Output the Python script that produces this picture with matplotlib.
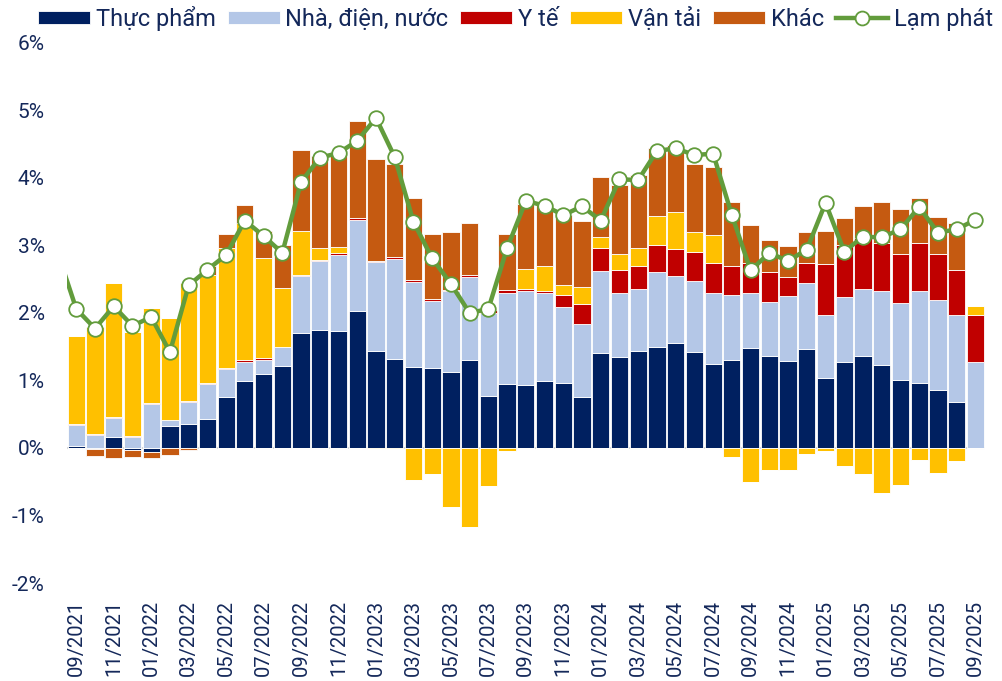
import matplotlib
matplotlib.use("Agg")
import matplotlib.pyplot as plt
from matplotlib import font_manager
import numpy as np

months = ["08/2021",
          "09/2021", "10/2021", "11/2021", "12/2021", "01/2022", "02/2022", "03/2022", "04/2022",
          "05/2022", "06/2022", "07/2022", "08/2022", "09/2022", "10/2022", "11/2022", "12/2022",
          "01/2023", "02/2023", "03/2023", "04/2023", "05/2023", "06/2023", "07/2023", "08/2023",
          "09/2023", "10/2023", "11/2023", "12/2023", "01/2024", "02/2024", "03/2024", "04/2024",
          "05/2024", "06/2024", "07/2024", "08/2024", "09/2024", "10/2024", "11/2024", "12/2024",
          "01/2025", "02/2025", "03/2025", "04/2025", "05/2025", "06/2025", "07/2025", "08/2025",
          "09/2025"]

# contributions (percentage points), months 09/2021 .. 09/2025
thuc_pham = [0.03, -0.02, 0.16, -0.03, -0.06, 0.33, 0.36, 0.43, 0.76, 0.99, 1.10, 1.21,
             1.71, 1.75, 1.74, 2.03, 1.43, 1.32, 1.20, 1.19, 1.12, 1.30, 0.77, 0.95,
             0.93, 0.99, 0.97, 0.76, 1.41, 1.35, 1.44, 1.49, 1.56, 1.42, 1.24, 1.31,
             1.48, 1.37, 1.29, 1.47, 1.03, 1.27, 1.36, 1.23, 1.00, 0.97, 0.86, 0.68, 0.00]
nha_dien_nuoc = [0.31, 0.19, 0.29, 0.17, 0.65, 0.08, 0.32, 0.52, 0.41, 0.29, 0.21, 0.28,
                 0.84, 1.02, 1.12, 1.35, 1.32, 1.48, 1.26, 0.99, 1.20, 1.23, 1.23, 1.35,
                 1.39, 1.30, 1.12, 1.07, 1.21, 0.94, 0.92, 1.12, 0.99, 1.05, 1.06, 0.95,
                 0.82, 0.79, 0.96, 0.98, 0.94, 0.96, 1.00, 1.09, 1.15, 1.36, 1.33, 1.29, 1.28]
y_te = [0.01, 0.01, 0.01, 0.01, 0.02, 0.01, 0.02, 0.02, 0.01, 0.02, 0.02, 0.01,
        0.02, 0.02, 0.03, 0.02, 0.02, 0.03, 0.03, 0.03, 0.02, 0.03, 0.04, 0.04,
        0.03, 0.03, 0.18, 0.30, 0.35, 0.34, 0.34, 0.40, 0.40, 0.44, 0.44, 0.44,
        0.44, 0.45, 0.28, 0.29, 0.75, 0.78, 0.75, 0.72, 0.73, 0.70, 0.69, 0.67, 0.69]
van_tai = [1.31, 1.59, 1.99, 1.54, 1.40, 1.50, 1.75, 1.59, 1.78, 2.03, 1.48, 0.87,
           0.64, 0.18, 0.09, 0.00, -0.01, -0.02, -0.47, -0.39, -0.87, -1.17, -0.56, -0.04,
           0.30, 0.37, 0.15, 0.25, 0.15, 0.25, 0.27, 0.42, 0.54, 0.29, 0.42, -0.14,
           -0.51, -0.32, -0.33, -0.09, -0.04, -0.27, -0.39, -0.66, -0.55, -0.18, -0.37, -0.19, 0.14]
khac = [0.00, -0.10, -0.15, -0.10, -0.09, -0.10, -0.03, 0.14, 0.21, 0.27, 0.41, 0.63,
        1.21, 1.35, 1.38, 1.45, 1.51, 1.38, 1.21, 0.96, 0.86, 0.78, 0.00, 0.83,
        0.97, 0.94, 1.03, 0.98, 0.89, 1.02, 1.08, 1.02, 1.00, 1.00, 1.01, 0.94,
        0.56, 0.47, 0.46, 0.46, 0.49, 0.40, 0.48, 0.61, 0.66, 0.68, 0.54, 0.69, 0.00]
# headline inflation, months 08/2021 .. 09/2025
lam_phat = [2.90,
            2.06, 1.77, 2.10, 1.81, 1.94, 1.42, 2.41, 2.64, 2.86, 3.37, 3.14, 2.89,
            3.94, 4.30, 4.37, 4.55, 4.89, 4.31, 3.35, 2.81, 2.43, 2.00, 2.06, 2.96,
            3.66, 3.59, 3.45, 3.58, 3.37, 3.98, 3.97, 4.40, 4.44, 4.34, 4.36, 3.45,
            2.63, 2.89, 2.77, 2.94, 3.63, 2.91, 3.13, 3.12, 3.24, 3.57, 3.19, 3.24, 3.38]

series_names = ["Thực phẩm", "Nhà, điện, nước", "Y tế", "Vận tải", "Khác"]
series_vals = [thuc_pham, nha_dien_nuoc, y_te, van_tai, khac]
colors = ["#002060", "#B4C7E7", "#C00000", "#FFC000", "#C55A11"]
line_color = "#629C3C"
text_color = "#14285A"

def pick(names):
    avail = {f.name for f in font_manager.fontManager.ttflist}
    return [n for n in names if n in avail] or ["DejaVu Sans"]

tick_font = pick(["Roboto", "DejaVu Sans"])

fig = plt.figure(figsize=(10.03, 6.81), dpi=100)
ax = fig.add_axes([0.0667, 0.1439, 0.9151, 0.7930])

n = len(thuc_pham)
x = np.arange(n)
pos_base = np.zeros(n)
neg_base = np.zeros(n)
handles = []
for name, vals, col in zip(series_names, series_vals, colors):
    v = np.array(vals)
    pos = np.where(v > 0, v, 0)
    neg = np.where(v < 0, v, 0)
    h = ax.bar(x, pos, 0.92, bottom=pos_base, color=col, edgecolor="white",
               linewidth=0.6, label=name, zorder=2)
    ax.bar(x, neg, 0.92, bottom=neg_base, color=col, edgecolor="white",
           linewidth=0.6, zorder=2)
    pos_base += pos
    neg_base += neg
    handles.append(h)

ax.axhline(0, color="#D9D9D9", lw=1.5, zorder=1)

xl = np.arange(-1, n)
ln, = ax.plot(xl, lam_phat, color=line_color, lw=3.2, marker="o", ms=10.5,
              markerfacecolor="white", markeredgecolor=line_color, markeredgewidth=1.3,
              zorder=3, label="Lạm phát")

ax.set_xlim(-0.5, n - 0.5)
ax.set_ylim(-2, 6)
ax.set_yticks(range(-2, 7))
ax.set_yticklabels([f"{t}%" for t in range(-2, 7)], fontsize=15,
                   color=text_color, family=tick_font)
ax.set_xticks(x[::2])
ax.set_xticklabels(months[1::2], rotation=90, fontsize=14.5, color=text_color,
                   family=tick_font)
ax.tick_params(axis="y", length=0, pad=16)
ax.tick_params(axis="x", length=0, pad=12)
for s in ax.spines.values():
    s.set_visible(False)

leg = fig.legend(handles + [ln], series_names + ["Lạm phát"], loc="center left",
                 bbox_to_anchor=(0.038, 1 - 18.5 / 681), ncol=6, frameon=False,
                 prop={"family": tick_font, "size": 17}, handlelength=2.2,
                 handleheight=0.5, handletextpad=0.25, columnspacing=0.5,
                 borderpad=0.0, borderaxespad=0.0)
for t in leg.get_texts():
    t.set_color(text_color)
for lh in leg.legend_handles[-1:]:
    lh.set_markersize(10)

fig.savefig("out.png", dpi=100)
